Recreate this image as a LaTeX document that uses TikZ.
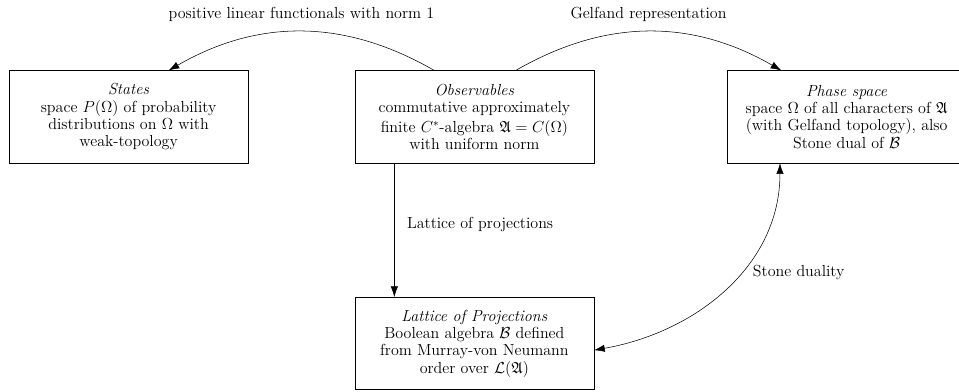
\documentclass[tikz,border=0pt]{standalone}
\usepackage{amssymb}
\usepackage{amsmath}
\usetikzlibrary{positioning}
\usetikzlibrary{arrows.meta}
\tikzset{>={Latex[length=8pt,width=5.5pt]}}
\tikzset{
	% boxes for the four views
	viewbox/.style={draw,align=center,minimum width=6.3cm,minimum height=2.43cm,
		font=\fontsize{12pt}{13pt}\selectfont},
	% labels on the arrows
	arrowlabel/.style={font=\large},
}

\begin{document}
\begin{tikzpicture}
\useasboundingbox (0,0) rectangle (25.28,10.33);
% the four boxes
\node[viewbox] (states) at (3.39,7.25) {\textit{States}\\ space $P(\Omega)$ of probability\\ distributions on $\Omega$ with\\ weak-topology};
\node[viewbox,right=2.8cm of states] (obs) {\textit{Observables}\\ commutative approximately\\[1.5pt] finite $C^*$-algebra $\mathfrak{A}=C(\Omega)$\\ with uniform norm};
\node[viewbox,right=3.5cm of obs] (phase) {\textit{Phase space}\\ space $\Omega$ of all characters of $\mathfrak{A}$\\ (with Gelfand topology), also\\ Stone dual of $\mathcal{B}$};
\node[viewbox,below=3.53cm of obs] (lat) {\textit{Lattice of Projections}\\ Boolean algebra $\mathcal{B}$ defined\\ from Murray-von Neumann\\ order over $\mathcal{L}(\mathfrak{A})$};
% the arrows between them
\draw[->] ([xshift=-30pt]obs.north) to[bend right=30] node[arrowlabel,midway,above=4pt] {positive linear functionals with norm 1} ([xshift=30pt]states.north);
\draw[->] ([xshift=31pt]obs.north) to[bend left=30] node[arrowlabel,midway,above=4pt] {Gelfand representation} ([xshift=-49pt]phase.north);
\draw[->] ([xshift=-60pt]obs.south) -- node[arrowlabel,pos=0.46,right=6pt] {Lattice of projections} ([xshift=-60pt]lat.north);
\draw[<->] ([xshift=-50pt]phase.south) to[out=-90,in=10] node[arrowlabel,pos=0.42,right=6pt] {Stone duality} ([yshift=-5pt]lat.east);
\end{tikzpicture}
\end{document}
